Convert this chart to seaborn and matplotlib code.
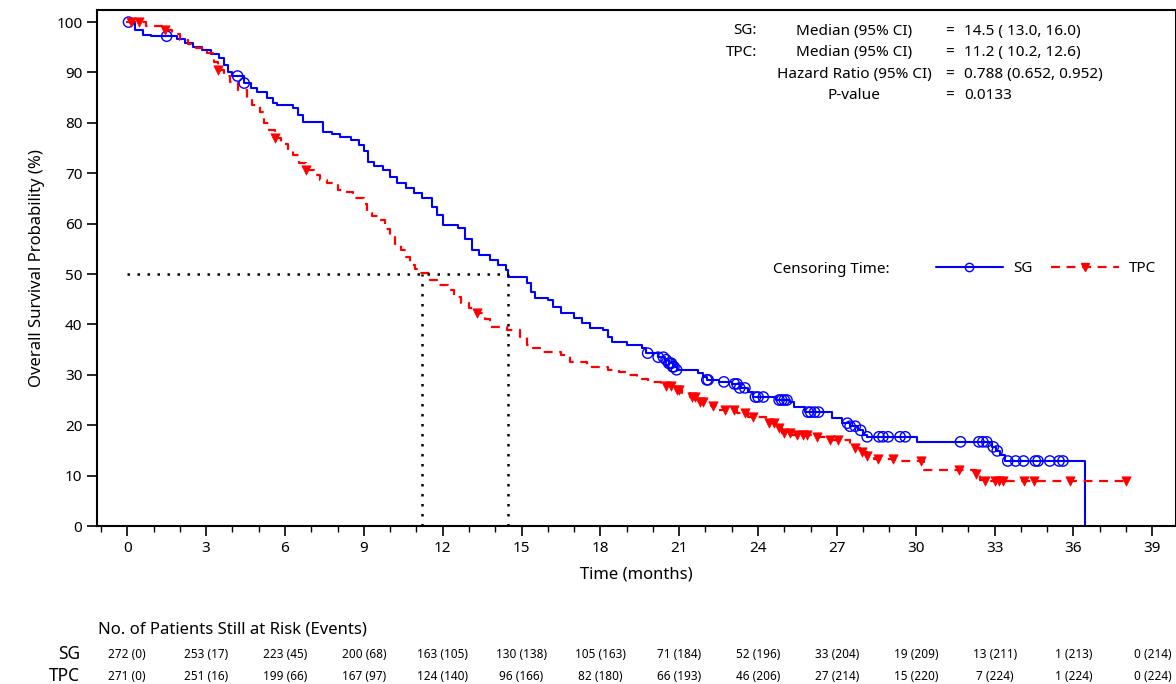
import matplotlib
matplotlib.use("Agg")
import matplotlib.pyplot as plt
import numpy as np
import pandas as pd
import seaborn as sns
from matplotlib.lines import Line2D
from matplotlib.ticker import MultipleLocator
import matplotlib.transforms as mtransforms

sns.set_style('ticks')
plt.rcParams['font.family'] = ['Noto Sans', 'DejaVu Sans']
plt.rcParams.update({'text.color': 'black', 'axes.labelcolor': 'black',
                     'xtick.color': 'black', 'ytick.color': 'black',
                     'axes.edgecolor': 'black'})

# KM step points (time in months, survival %)
sg_t = [0, 0.3, 0.6, 0.9, 1.9, 2.2, 2.5, 2.85, 3.2, 3.5, 3.7, 3.85, 4.0, 4.45, 4.7, 4.95,
        5.3, 5.55, 5.7, 6.3, 6.5, 6.7, 7.45, 7.8, 8.1, 8.5, 8.8, 9.0, 9.17, 9.4, 9.74,
        10.0, 10.27, 10.6, 10.9, 11.2, 11.6, 11.8, 12.0, 12.6, 12.85, 13.1, 13.4, 13.8,
        14.1, 14.4, 14.5, 15.2, 15.35, 15.5, 16.0, 16.2, 16.5, 17.0, 17.3, 17.6, 18.1,
        18.3, 18.45, 19.0, 19.6, 19.75, 20.2, 20.45, 20.6, 20.75, 20.9, 21.7, 21.9, 22.05,
        22.5, 23.0, 23.3, 23.6, 23.8, 24.7, 25.2, 25.35, 25.8, 26.8, 27.2, 27.5, 27.8,
        28.0, 28.15, 30.06, 32.9, 33.05, 33.2, 33.4, 36.45]
sg_s = [100, 98.4, 97.4, 97.2, 96.6, 95.8, 95.0, 94.4, 93.6, 92.9, 91.5, 90.0, 89.3, 87.9, 87.0, 86.1,
        85.0, 83.9, 83.5, 82.9, 81.5, 80.2, 78.2, 77.8, 77.2, 76.6, 75.6, 74.5, 72.2, 71.5, 70.6,
        69.3, 68.0, 67.0, 66.0, 65.0, 63.3, 61.8, 59.7, 59.1, 57.0, 54.8, 53.8, 52.8,
        51.8, 50.8, 49.4, 48.2, 46.5, 45.2, 44.8, 43.5, 42.3, 41.3, 40.3, 39.3, 38.9,
        37.5, 36.5, 35.9, 35.3, 34.3, 33.5, 33.0, 32.3, 31.6, 31.0, 30.4, 29.6, 29.0,
        28.6, 28.2, 27.4, 26.6, 25.6, 25.0, 24.6, 23.6, 22.6, 21.4, 20.4, 19.8, 19.0,
        18.0, 17.7, 16.7, 15.7, 14.9, 14.1, 12.9, 0]

tpc_t = [0, 0.7, 1.45, 1.7, 2.0, 2.3, 2.6, 3.05, 3.3, 3.45, 3.7, 3.9, 4.2, 4.55, 4.75, 5.05,
         5.2, 5.4, 5.63, 5.85, 6.1, 6.3, 6.55, 6.8, 7.1, 7.35, 7.6, 8.0, 8.2, 8.6, 9.0, 9.13,
         9.3, 9.55, 9.8, 10.0, 10.2, 10.4, 10.6, 10.77, 10.95, 11.15, 11.5, 11.8, 12.2, 12.45,
         12.7, 13.0, 13.3, 13.6, 13.8, 14.45, 14.95, 15.2, 15.45, 15.7, 16.5, 16.85, 17.5,
         18.3, 18.7, 19.0, 19.4, 19.8, 20.3, 20.8, 21.1, 21.4, 21.8, 22.2, 22.5, 23.2, 23.6,
         24.3, 24.7, 24.9, 25.3, 26.2, 26.6, 27.5, 27.7, 27.95, 28.15, 28.4, 29.2, 30.3,
         32.3, 32.45, 32.6, 38.0]
tpc_s = [100, 99.2, 98.4, 97.6, 96.4, 95.6, 94.8, 93.8, 92.0, 90.5, 89.3, 88.1, 86.5, 84.9, 83.5, 82.1,
         80.0, 78.5, 77.0, 75.8, 74.6, 73.6, 72.0, 70.6, 69.6, 68.7, 68.0, 66.7, 66.3, 65.1, 64.0, 62.1,
         61.5, 60.7, 59.0, 57.3, 56.0, 54.8, 53.3, 51.8, 51.0, 50.2, 48.8, 47.8, 46.8, 45.5,
         44.2, 43.2, 42.3, 41.0, 39.5, 38.9, 37.5, 36.0, 35.3, 34.5, 33.9, 32.5, 31.5,
         31.0, 30.5, 30.0, 29.2, 28.6, 27.8, 27.0, 26.3, 25.6, 24.6, 23.9, 23.0, 22.4, 21.6,
         20.4, 19.4, 18.5, 18.0, 17.7, 17.0, 16.2, 15.5, 14.7, 13.9, 13.3, 12.9, 11.1,
         10.3, 9.1, 8.9, 8.9]

sg_cens = [0.05, 1.5, 4.2, 4.45, 19.8, 20.2, 20.4, 20.5, 20.6, 20.65, 20.7, 20.75, 20.8, 20.9,
           22.05, 22.1, 22.7, 23.1, 23.2, 23.3, 23.5, 23.9, 24.0, 24.2, 24.8, 24.9, 25.0, 25.1,
           25.9, 26.0, 26.15, 26.3, 27.4, 27.5, 27.7, 27.9, 28.15, 28.6, 28.75, 28.95, 29.4, 29.6,
           31.7, 32.4, 32.55, 32.7, 32.95, 33.1, 33.5, 33.8, 34.1, 34.55, 34.65, 35.1, 35.45, 35.6]
tpc_cens = [0.15, 0.45, 1.45, 3.45, 5.63, 6.8, 13.3, 20.5, 20.7, 20.9, 21.0, 21.5, 21.6, 21.8,
            21.9, 22.3, 22.75, 23.1, 23.5, 23.8, 24.4, 24.6, 24.8, 25.0, 25.2, 25.5, 25.7, 25.85,
            26.25, 26.75, 27.05, 27.7, 27.95, 28.15, 28.55, 29.15, 30.2, 31.65, 32.3, 32.65, 33.0,
            33.15, 33.3, 34.1, 34.5, 35.85, 38.0]

medians = {'SG': 14.5, 'TPC': 11.2}

risk_times = list(range(0, 40, 3))
sg_risk = ['272 (0)', '253 (17)', '223 (45)', '200 (68)', '163 (105)', '130 (138)', '105 (163)',
           '71 (184)', '52 (196)', '33 (204)', '19 (209)', '13 (211)', '1 (213)', '0 (214)']
tpc_risk = ['271 (0)', '251 (16)', '199 (66)', '167 (97)', '124 (140)', '96 (166)', '82 (180)',
            '66 (193)', '46 (206)', '27 (214)', '15 (220)', '7 (224)', '1 (224)', '0 (224)']

stat_rows = [('SG:', 'Median (95% CI)', '14.5 ( 13.0, 16.0)'),
             ('TPC:', 'Median (95% CI)', '11.2 ( 10.2, 12.6)'),
             ('', 'Hazard Ratio (95% CI)', '0.788 (0.652, 0.952)'),
             ('', 'P-value', '0.0133')]

BLUE = '#0000ff'
RED = '#ff0000'


def surv_at(times, surv, t):
    idx = np.searchsorted(times, t, side='right') - 1
    return np.array(surv)[idx]


sg_df = pd.DataFrame({'t': sg_t, 's': sg_s})
tpc_df = pd.DataFrame({'t': tpc_t, 's': tpc_s})
sg_c = pd.DataFrame({'t': sg_cens, 's': surv_at(sg_t, sg_s, sg_cens)})
tpc_c = pd.DataFrame({'t': tpc_cens, 's': surv_at(tpc_t, tpc_s, tpc_cens)})

fig = plt.figure(figsize=(11.76, 6.84), dpi=100)
ax = fig.add_axes([97/1176, 1-526/684, 1-97/1176, (526-10)/684])

sns.lineplot(data=sg_df, x='t', y='s', ax=ax, color=BLUE, lw=1.5, drawstyle='steps-post',
             estimator=None, sort=False)
sns.lineplot(data=tpc_df, x='t', y='s', ax=ax, color=RED, lw=1.6, drawstyle='steps-post',
             estimator=None, sort=False, dashes=False, linestyle=(0, (4, 3)))
ax.scatter(sg_c['t'], sg_c['s'], s=55, marker='o', facecolors='none', edgecolors=BLUE,
           linewidths=1.0, zorder=4)
sns.scatterplot(data=tpc_c, x='t', y='s', ax=ax, s=45, marker='v', color=RED,
                edgecolor=RED, linewidth=0.5, zorder=4)

# median reference lines
dot = dict(color='black', lw=1.8, linestyle=(0, (1, 3)))
ax.plot([0, medians['SG']], [50, 50], **dot)
ax.plot([medians['TPC'], medians['TPC']], [0, 50], **dot)
ax.plot([medians['SG'], medians['SG']], [0, 50], **dot)

ax.set_xlim(-1.15, 39.9)
ax.set_ylim(0, 102.4)
ax.set_xticks(risk_times)
ax.xaxis.set_minor_locator(MultipleLocator(1))
ax.set_yticks(range(0, 101, 10))
ax.tick_params(axis='both', which='major', length=7, width=1.2, labelsize=11)
ax.tick_params(axis='x', which='minor', length=4, width=1)
for lab in ax.get_xticklabels() + ax.get_yticklabels():
    lab.set_fontweight('bold')
for sp in ax.spines.values():
    sp.set_linewidth(1.5)
ax.set_xlabel('Time (months)', fontsize=12, fontweight='semibold', labelpad=8)
ax.set_ylabel('Overall Survival Probability (%)', fontsize=12, labelpad=8)

# legend
ax.text(773/1176, 1-269/684, 'Censoring Time:', transform=fig.transFigure,
        fontsize=11, va='center', ha='left')
handles = [Line2D([], [], color=BLUE, lw=1.5, marker='o', mfc='none', mec=BLUE, ms=6),
           Line2D([], [], color=RED, lw=1.6, linestyle=(0, (4, 3)), marker='v', mfc=RED, mec=RED, ms=6)]
ax.legend(handles, ['SG', 'TPC'], ncol=2, frameon=False, fontsize=11, handlelength=4.4,
          columnspacing=1.2, handletextpad=0.7, loc='center left',
          bbox_to_anchor=((922-97)/1079, (526-269)/516))

# stats box
for i, (grp, lab, val) in enumerate(stat_rows):
    y = 1 - (31 + i*21.6)/684
    fig.text(757/1176, y, grp, ha='right', va='center', fontsize=11)
    fig.text(854/1176, y, lab, ha='center', va='center', fontsize=11)
    fig.text(949/1176, y, '=', ha='center', va='center', fontsize=11)
    fig.text(964/1176, y, val, ha='left', va='center', fontsize=11)

# number at risk table
fig.text(98/1176, 1-630/684, 'No. of Patients Still at Risk (Events)', fontsize=12,
         ha='left', va='center')
trans = mtransforms.blended_transform_factory(ax.transData, fig.transFigure)
fig.text(80/1176, 1-654/684, 'SG', ha='right', va='center', fontsize=12.5)
fig.text(80/1176, 1-676/684, 'TPC', ha='right', va='center', fontsize=12.5)
for t, a, b in zip(risk_times, sg_risk, tpc_risk):
    ax.text(t, 1-654/684, a, transform=trans, ha='center', va='center', fontsize=8.5)
    ax.text(t, 1-676/684, b, transform=trans, ha='center', va='center', fontsize=8.5)

fig.savefig('out.png', dpi=100)
